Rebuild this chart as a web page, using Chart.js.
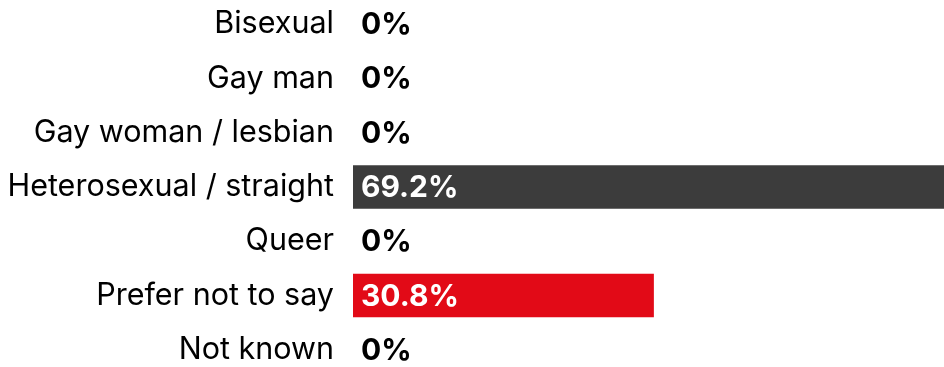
<!DOCTYPE html>
<html>
<head>
<meta charset="utf-8">
<script src="https://cdn.jsdelivr.net/npm/chart.js@4.4.1/dist/chart.umd.min.js"></script>
<style>
  html, body { margin: 0; padding: 0; background: #fff; overflow: hidden; }
  #wrap { position: absolute; left: 0; top: -3px; width: 944px; height: 380px; }
</style>
</head>
<body>
<div id="wrap"><canvas id="orientation-chart"></canvas></div>
<script>
const categories = ['Bisexual', 'Gay man', 'Gay woman / lesbian', 'Heterosexual / straight', 'Queer', 'Prefer not to say', 'Not known'];
const percentages = [0, 0, 0, 69.2, 0, 30.8, 0];
const barColours = ['#3c3c3c', '#3c3c3c', '#3c3c3c', '#3c3c3c', '#3c3c3c', '#e20a17', '#3c3c3c'];

// draws the value text at the start of each bar
const valueLabels = {
    id: 'valueLabels',
    afterDatasetsDraw(chart) {
        const ctx = chart.ctx;
        const meta = chart.getDatasetMeta(0);
        ctx.save();
        ctx.font = 'bold 30px Inter';
        ctx.textBaseline = 'middle';
        ctx.textAlign = 'left';
        meta.data.forEach(function(bar, i) {
            const v = percentages[i];
            ctx.fillStyle = v > 0 ? '#ffffff' : '#000000';
            ctx.fillText(v + '%', bar.base + 8, bar.y + 1);
        });
        ctx.restore();
    }
};

const ctx_orientation = document.getElementById('orientation-chart').getContext('2d');
const barChart = new Chart(ctx_orientation, {
    type: 'bar',
    data: {
        labels: categories,
        datasets: [{
            data: percentages,
            backgroundColor: barColours,
            borderWidth: 0,
            barPercentage: 0.8,
            categoryPercentage: 1
        }]
    },
    options: {
        indexAxis: 'y',
        responsive: true,
        maintainAspectRatio: false,
        animation: false,
        layout: { padding: 0 },
        plugins: {
            legend: { display: false },
            tooltip: { enabled: false }
        },
        scales: {
            x: {
                display: false,
                min: 0,
                max: 60.5
            },
            y: {
                border: { display: false },
                grid: { display: false, drawTicks: false },
                ticks: {
                    color: '#000000',
                    padding: 19,
                    font: { family: 'Inter', size: 30.5 }
                },
                afterFit(scale) {
                    scale.width = 353;
                    scale.paddingTop = 0;
                    scale.paddingBottom = 0;
                }
            }
        }
    },
    plugins: [valueLabels]
});
</script>
</body>
</html>
